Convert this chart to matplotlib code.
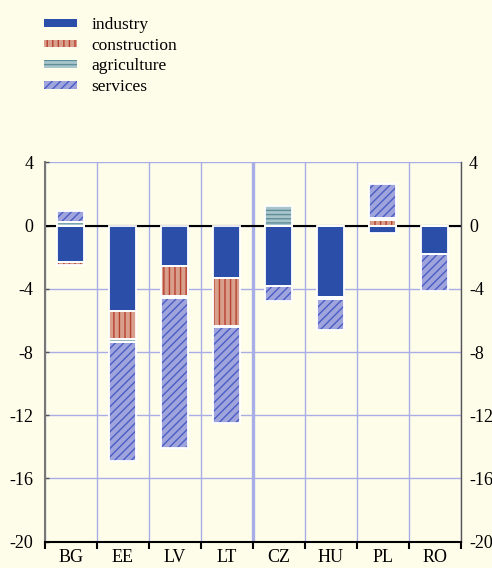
import matplotlib
matplotlib.use("Agg")
import matplotlib.pyplot as plt
from matplotlib.patches import Patch
import numpy as np

# Contributions by sector, percentage points
countries = ["BG", "EE", "LV", "LT", "CZ", "HU", "PL", "RO"]
industry = [-2.3, -5.4, -2.55, -3.35, -3.8, -4.5, -0.5, -1.8]
construction = [-0.2, -1.8, -1.9, -3.0, 0.0, 0.0, 0.35, 0.0]
agriculture = [0.2, -0.15, -0.15, -0.05, 1.25, -0.15, 0.1, 0.0]
services = [0.7, -7.55, -9.45, -6.1, -0.95, -1.95, 2.2, -2.35]
yticks = [4, 0, -4, -8, -12, -16, -20]

BG_COLOR = "#fefdea"
GRID_COLOR = "#a9ade6"
# name, values, face colour, hatch colour, hatch
SERIES = [
    ("industry", industry, "#2b4fa8", "white", None),
    ("construction", construction, "#d8a08c", "#b8402e", "|||"),
    ("agriculture", agriculture, "#a9c5cc", "#5f8e99", "----"),
    ("services", services, "#a0a4dc", "#4a5dc4", "////"),
]

plt.rcParams.update({
    "font.family": ["Liberation Serif", "DejaVu Serif"],
    "font.size": 13,
    "hatch.linewidth": 1.0,
})

fig = plt.figure(figsize=(4.92, 5.68), dpi=100, facecolor=BG_COLOR)
ax = fig.add_axes([44.7 / 492, 1 - 541.7 / 568, 416 / 492, 379.4 / 568])
ax.set_facecolor(BG_COLOR)

x = np.arange(len(countries))
width = 0.52
pos_bottom = np.zeros(len(x))
neg_bottom = np.zeros(len(x))
handles = []
for name, vals, face, hcol, hatch in SERIES:
    vals = np.array(vals, dtype=float)
    bottom = np.where(vals >= 0, pos_bottom, neg_bottom)
    ax.bar(x, vals, width, bottom=bottom, color=face, edgecolor=hcol,
           hatch=hatch, linewidth=0, zorder=3)
    ax.bar(x, vals, width, bottom=bottom, fill=False, edgecolor="white",
           linewidth=1.3, zorder=4)
    pos_bottom += np.where(vals > 0, vals, 0)
    neg_bottom += np.where(vals < 0, vals, 0)
    handles.append(Patch(facecolor=face, edgecolor=hcol, hatch=hatch,
                         linewidth=0, label=name))

ax.axhline(0, color="black", lw=1.5, zorder=2)
ax.axvline(3.5, color=GRID_COLOR, lw=2.4, zorder=1)

ax.set_xlim(-0.5, len(x) - 0.5)
ax.set_ylim(-20, 4)
ax.set_yticks(yticks)
ax.set_yticklabels([str(t) for t in yticks])
ax.set_xticks(x)
ax.set_xticklabels(countries)
ax.set_xticks(np.arange(len(x) + 1) - 0.5, minor=True)
ax.grid(True, axis="y", which="major", color=GRID_COLOR, lw=1, zorder=0)
ax.grid(True, axis="x", which="minor", color=GRID_COLOR, lw=1, zorder=0)
ax.set_axisbelow(True)

ax.tick_params(axis="y", direction="in", length=3, width=1, pad=8,
               color="#555555", right=False)
# reference labels run off the bottom edge; keep them just inside
ax.tick_params(axis="x", which="major", length=0, pad=5)
ax.tick_params(axis="x", which="minor", direction="out", length=5,
               width=1.5, color="black")

ax.spines["top"].set_visible(False)
ax.spines["left"].set_color("#777777")
ax.spines["left"].set_linewidth(1.5)
ax.spines["right"].set_color("#555555")
ax.spines["right"].set_linewidth(1.0)
ax.spines["bottom"].set_color("black")
ax.spines["bottom"].set_linewidth(1.5)

# right-hand labels
ax2 = ax.twinx()
ax2.set_ylim(ax.get_ylim())
ax2.set_yticks(yticks)
ax2.set_yticklabels([str(t) for t in yticks])
ax2.tick_params(axis="y", length=0, pad=6)
for side in ["top", "left", "bottom", "right"]:
    ax2.spines[side].set_visible(False)

fig.legend(handles=handles, loc="upper left",
           bbox_to_anchor=(44 / 492, 1 - 17 / 568), frameon=False,
           fontsize=12.5, handlelength=1.9, handleheight=0.3,
           handletextpad=0.85, labelspacing=0.27, borderpad=0,
           borderaxespad=0)

fig.savefig("out.png", dpi=100, facecolor=BG_COLOR)
